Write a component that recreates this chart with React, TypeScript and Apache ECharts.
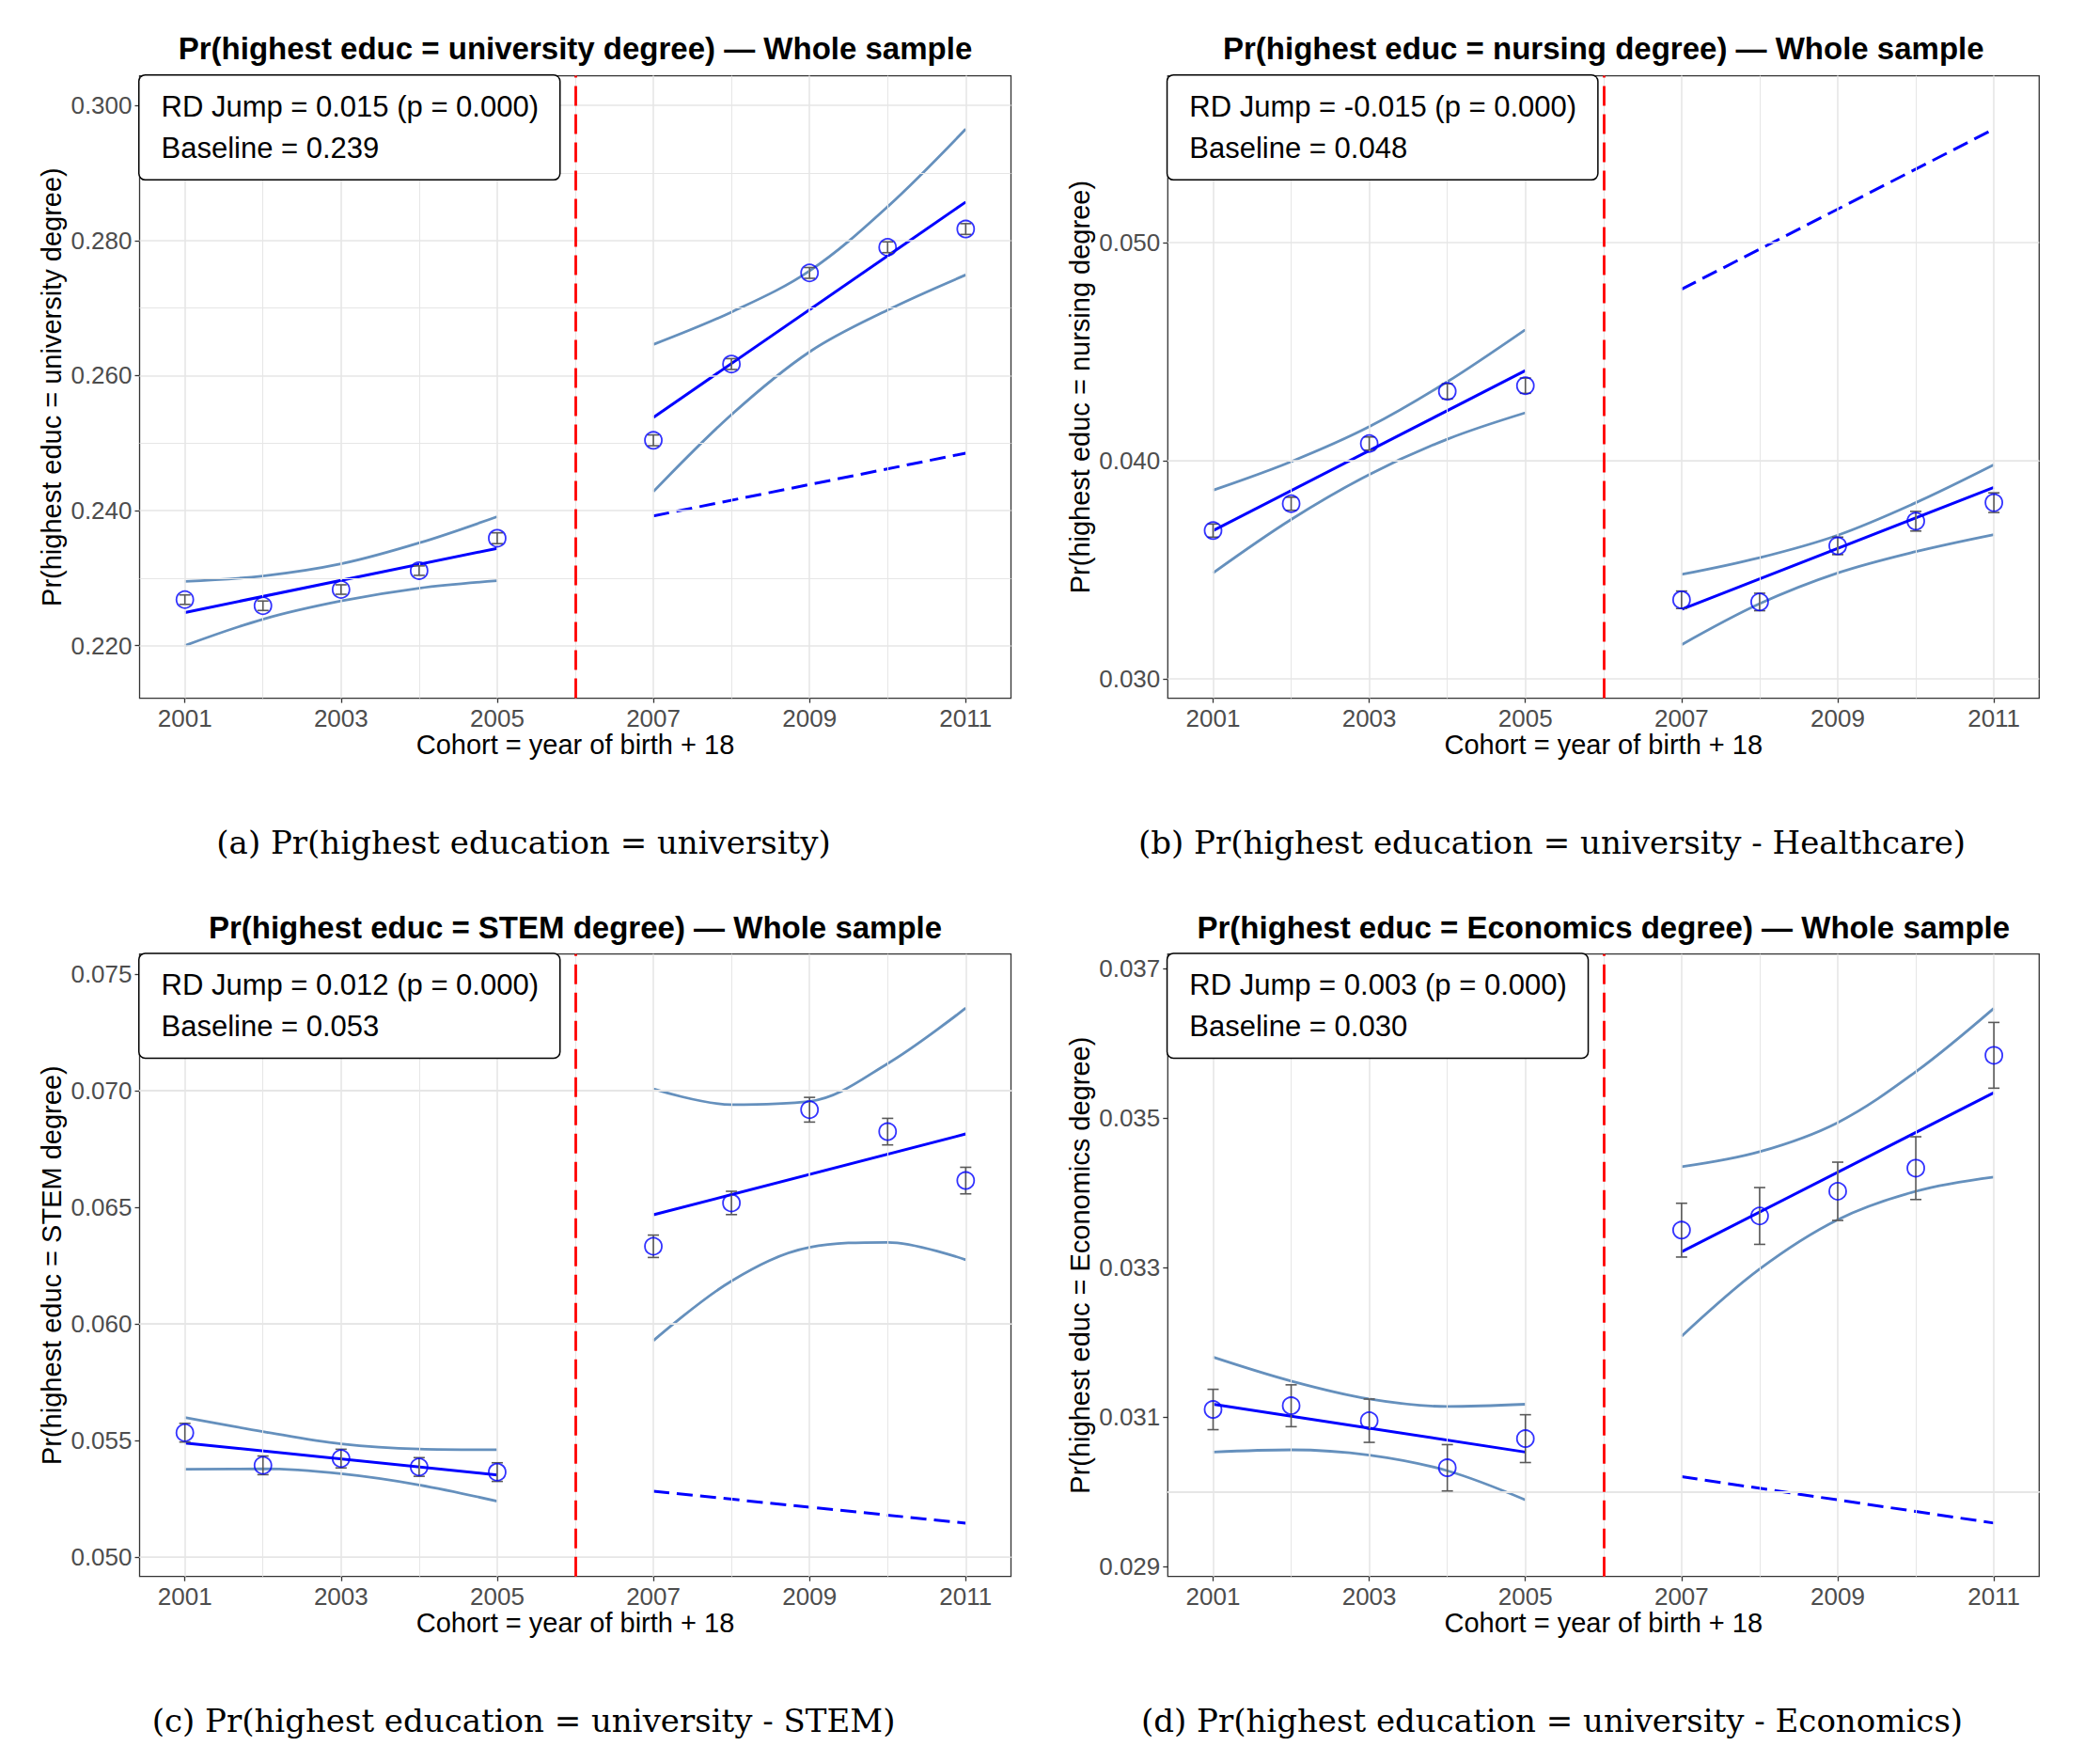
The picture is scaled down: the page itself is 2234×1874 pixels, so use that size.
import { useEffect, useRef } from 'react';
import * as echarts from 'echarts';

// cohorts on each side of the 2006 cut-off
const yearsLeft = [2001, 2002, 2003, 2004, 2005];
const yearsRight = [2007, 2008, 2009, 2010, 2011];
const cutoffYear = 2006;
const xMajorTicks = [2001, 2003, 2005, 2007, 2009, 2011];
const xMinorTicks = [2002, 2004, 2006, 2008, 2010];
const xRange = [2000.42, 2011.58];

// (a) university degree
const univPoints = [0.2268, 0.2259, 0.2283, 0.2311, 0.2359, 0.2504, 0.2617, 0.2752, 0.2790, 0.2817];
const univErr = [0.0007, 0.0007, 0.0007, 0.0007, 0.0008, 0.0008, 0.0008, 0.0008, 0.0008, 0.0008];
const univFitLeft = [0.2249, 0.2344];
const univFitRight = [0.2538, 0.2857];
const univUpperLeft = [0.2295, 0.2303, 0.2321, 0.2352, 0.2391];
const univLowerLeft = [0.2200, 0.2239, 0.2266, 0.2285, 0.2296];
const univUpperRight = [0.2646, 0.2694, 0.2755, 0.2850, 0.2965];
const univLowerRight = [0.2428, 0.2542, 0.2635, 0.2697, 0.2749];
const univCounterfactual = [0.2392, 0.2485];
const univYTicks = [0.22, 0.24, 0.26, 0.28, 0.30];
const univYMinor = [0.23, 0.25, 0.27, 0.29];
const univYRange = [0.2122, 0.3044];

// (b) nursing degree
const nursePoints = [0.0368, 0.03803, 0.04079, 0.04318, 0.04344, 0.03363, 0.03353, 0.0361, 0.03723, 0.03808];
const nurseErr = [0.0003, 0.0003, 0.0003, 0.00035, 0.00035, 0.0004, 0.0004, 0.0004, 0.00045, 0.00045];
const nurseFitLeft = [0.0368, 0.04413];
const nurseFitRight = [0.03319, 0.03878];
const nurseUpperLeft = [0.03865, 0.03996, 0.04156, 0.04362, 0.04601];
const nurseLowerLeft = [0.03486, 0.03731, 0.03937, 0.04099, 0.0422];
const nurseUpperRight = [0.03479, 0.03556, 0.03659, 0.03808, 0.03982];
const nurseLowerRight = [0.03157, 0.03345, 0.03486, 0.03584, 0.03662];
const nurseCounterfactual = [0.04786, 0.0552];
const nurseYTicks = [0.03, 0.04, 0.05];
const nurseYMinor = [0.035, 0.045, 0.055];
const nurseYRange = [0.02912, 0.05764];

// (c) STEM degree
const stemPoints = [0.05533, 0.05393, 0.05422, 0.05386, 0.05364, 0.06333, 0.06519, 0.06919, 0.06825, 0.06615];
const stemErr = [0.0004, 0.0004, 0.0004, 0.0004, 0.0004, 0.00048, 0.0005, 0.00053, 0.00057, 0.00057];
const stemFitLeft = [0.05489, 0.05352];
const stemFitRight = [0.06468, 0.06815];
const stemUpperLeft = [0.05598, 0.05538, 0.05485, 0.05463, 0.0546];
const stemLowerLeft = [0.05376, 0.05378, 0.05357, 0.05309, 0.05239];
const stemUpperRight = [0.07008, 0.06941, 0.06955, 0.07117, 0.07355];
const stemLowerRight = [0.05928, 0.06184, 0.06328, 0.0635, 0.06275];
const stemCounterfactual = [0.05282, 0.05145];
const stemYTicks = [0.05, 0.055, 0.06, 0.065, 0.07, 0.075];
const stemYMinor = [0.0525, 0.0575, 0.0625, 0.0675, 0.0725];
const stemYRange = [0.04916, 0.07587];

// (d) economics degree
const econPoints = [0.0311, 0.03115, 0.03095, 0.03032, 0.03071, 0.0335, 0.03369, 0.03402, 0.03433, 0.03584];
const econErr = [0.00027, 0.00028, 0.00029, 0.00031, 0.00032, 0.00036, 0.00038, 0.00039, 0.00042, 0.00044];
const econFitLeft = [0.03117, 0.03053];
const econFitRight = [0.03321, 0.03534];
const econUpperLeft = [0.0318, 0.03148, 0.03124, 0.03114, 0.03117];
const econLowerLeft = [0.03053, 0.03056, 0.03049, 0.03028, 0.02989];
const econUpperRight = [0.03435, 0.03455, 0.03494, 0.03562, 0.03647];
const econLowerRight = [0.03208, 0.03298, 0.03364, 0.03402, 0.03421];
const econCounterfactual = [0.0302, 0.02958];
const econYTicks = [0.029, 0.031, 0.033, 0.035, 0.037];
const econYMinor = [0.030, 0.032, 0.034, 0.036];
const econYRange = [0.028865, 0.037195];

const panelTitles = [
  'Pr(highest educ = university degree) — Whole sample',
  'Pr(highest educ = nursing degree) — Whole sample',
  'Pr(highest educ = STEM degree) — Whole sample',
  'Pr(highest educ = Economics degree) — Whole sample',
];
const yAxisTitles = [
  'Pr(highest educ = university degree)',
  'Pr(highest educ = nursing degree)',
  'Pr(highest educ = STEM degree)',
  'Pr(highest educ = Economics degree)',
];
const xAxisTitle = 'Cohort = year of birth + 18';
const notes = [
  'RD Jump = 0.015 (p = 0.000)\nBaseline = 0.239',
  'RD Jump = -0.015 (p = 0.000)\nBaseline = 0.048',
  'RD Jump = 0.012 (p = 0.000)\nBaseline = 0.053',
  'RD Jump = 0.003 (p = 0.000)\nBaseline = 0.030',
];
const captions = [
  '(a) Pr(highest education = university)',
  '(b) Pr(highest education = university - Healthcare)',
  '(c) Pr(highest education = university - STEM)',
  '(d) Pr(highest education = university - Economics)',
];

const panels = [
  { points: univPoints, err: univErr, fitL: univFitLeft, fitR: univFitRight, upL: univUpperLeft, loL: univLowerLeft, upR: univUpperRight, loR: univLowerRight, cf: univCounterfactual, yTicks: univYTicks, yMinor: univYMinor, yRange: univYRange },
  { points: nursePoints, err: nurseErr, fitL: nurseFitLeft, fitR: nurseFitRight, upL: nurseUpperLeft, loL: nurseLowerLeft, upR: nurseUpperRight, loR: nurseLowerRight, cf: nurseCounterfactual, yTicks: nurseYTicks, yMinor: nurseYMinor, yRange: nurseYRange },
  { points: stemPoints, err: stemErr, fitL: stemFitLeft, fitR: stemFitRight, upL: stemUpperLeft, loL: stemLowerLeft, upR: stemUpperRight, loR: stemLowerRight, cf: stemCounterfactual, yTicks: stemYTicks, yMinor: stemYMinor, yRange: stemYRange },
  { points: econPoints, err: econErr, fitL: econFitLeft, fitR: econFitRight, upL: econUpperLeft, loL: econLowerLeft, upR: econUpperRight, loR: econLowerRight, cf: econCounterfactual, yTicks: econYTicks, yMinor: econYMinor, yRange: econYRange },
];

const SANS = "'Liberation Sans', Arial, Helvetica, sans-serif";
const SERIF = "'DejaVu Serif', 'Liberation Serif', serif";
const PLOT_W = 927;
const PLOT_H = 662;
const lefts = [148.5, 1242.3, 148.5, 1242.3];
const tops = [80.6, 80.6, 1014.7, 1014.7];
const captionX = [557, 1651, 557, 1651];

const pairs = (xs: number[], ys: number[]) => xs.map((x, i) => [x, ys[i]]);
const ends = (xs: number[]) => [xs[0], xs[xs.length - 1]];
const allYears = [...yearsLeft, ...yearsRight];

function panelSeries(i: number) {
  const p = panels[i];
  const axes = { xAxisIndex: i, yAxisIndex: i };
  const grey = '#e6e6e6';
  const major = { color: grey, width: 1.6, type: 'solid' };
  const minor = { color: grey, width: 1, type: 'solid' };
  const gridLines = [
    ...xMajorTicks.map(v => ({ xAxis: v, lineStyle: major })),
    ...xMinorTicks.map(v => ({ xAxis: v, lineStyle: minor })),
    ...p.yTicks.map(v => ({ yAxis: v, lineStyle: major })),
    ...p.yMinor.map(v => ({ yAxis: v, lineStyle: minor })),
  ];
  const ci = (xs: number[], ys: number[]) => ({
    type: 'line', ...axes, z: 2, data: pairs(xs, ys), smooth: 0.35, symbol: 'none', silent: true,
    lineStyle: { color: '#6590bd', width: 2.8 },
  });
  const fit = (xs: number[], ys: number[], dashed: boolean) => ({
    type: 'line', ...axes, z: 3, data: pairs(xs, ys), symbol: 'none', silent: true,
    lineStyle: { color: '#0000ff', width: 3, type: dashed ? [17, 8] : 'solid' },
  });
  return [
    {
      type: 'line', ...axes, z: 1, data: [], silent: true,
      markLine: { silent: true, symbol: ['none', 'none'], label: { show: false }, data: gridLines },
    },
    ci(yearsLeft, p.upL),
    ci(yearsLeft, p.loL),
    ci(yearsRight, p.upR),
    ci(yearsRight, p.loR),
    fit(ends(yearsLeft), p.fitL, false),
    fit(ends(yearsRight), p.fitR, false),
    fit(ends(yearsRight), p.cf, true),
    {
      type: 'line', ...axes, z: 4, data: [], silent: true,
      markLine: {
        silent: true, symbol: ['none', 'none'], label: { show: false },
        data: [{ xAxis: cutoffYear }],
        lineStyle: { color: '#ff0000', width: 2.8, type: [21, 9] },
      },
    },
    {
      type: 'custom', ...axes, z: 5, silent: true,
      data: allYears.map((y, k) => [y, p.points[k], p.err[k]]),
      encode: { x: 0, y: 1 },
      renderItem: (_params: any, api: any) => {
        const x = api.value(0);
        const v = api.value(1);
        const e = api.value(2);
        const lo = api.coord([x, v - e]);
        const hi = api.coord([x, v + e]);
        const style = { stroke: '#595959', lineWidth: 1.6 };
        return {
          type: 'group',
          children: [
            { type: 'line', shape: { x1: lo[0], y1: lo[1], x2: hi[0], y2: hi[1] }, style },
            { type: 'line', shape: { x1: lo[0] - 6, y1: lo[1], x2: lo[0] + 6, y2: lo[1] }, style },
            { type: 'line', shape: { x1: hi[0] - 6, y1: hi[1], x2: hi[0] + 6, y2: hi[1] }, style },
          ],
        };
      },
    },
    {
      type: 'scatter', ...axes, z: 6, silent: true,
      data: pairs(allYears, p.points),
      symbol: 'circle', symbolSize: 18,
      itemStyle: { color: 'rgba(0,0,0,0)', borderColor: '#0000ff', borderWidth: 1.8 },
    },
  ];
}

function textEl(text: string, x: number, y: number, extra: any) {
  return {
    type: 'text', x, y, z: 100, silent: true,
    style: {
      text, fill: '#000', fontFamily: SANS, fontSize: 29,
      align: 'center', verticalAlign: 'middle', textAlign: 'center', textVerticalAlign: 'middle',
      ...extra,
    },
  };
}

export default function App() {
  const chartRef = useRef<HTMLDivElement>(null);

  useEffect(() => {
    if (!chartRef.current) return;
    document.body.style.margin = '0';

    const chart = echarts.init(chartRef.current, null, { renderer: 'svg' });

    const tickLabel = { fontSize: 26, color: '#4d4d4d', fontFamily: SANS, margin: 8 };
    const tickStyle = { show: true, length: 5, lineStyle: { color: '#333333', width: 1.3 } };

    const graphic: any[] = [];
    panels.forEach((_, i) => {
      const cx = lefts[i] + PLOT_W / 2;
      graphic.push(textEl(panelTitles[i], cx, tops[i] - 28.7, { fontSize: 33, fontWeight: 'bold' }));
      graphic.push(textEl(xAxisTitle, cx, tops[i] + PLOT_H + 49.4, {}));
      graphic.push({
        ...textEl(yAxisTitles[i], lefts[i] - 93.5, tops[i] + PLOT_H / 2, {}),
        rotation: Math.PI / 2,
      });
      graphic.push(textEl(captions[i], captionX[i], tops[i] + 815.4, { fontFamily: SERIF, fontSize: 34 }));
      graphic.push({
        type: 'text', x: lefts[i], y: tops[i], z: 100, silent: true,
        style: {
          text: notes[i], fill: '#000', fontFamily: SANS, fontSize: 31, lineHeight: 44,
          align: 'left', verticalAlign: 'top', textAlign: 'left', textVerticalAlign: 'top',
          padding: [11, 22, 11, 23], backgroundColor: '#ffffff',
          borderColor: '#000000', borderWidth: 1.5, borderRadius: 6,
        },
      });
    });

    const option = {
      animation: false,
      backgroundColor: '#ffffff',
      grid: panels.map((_, i) => ({
        left: lefts[i], top: tops[i], width: PLOT_W, height: PLOT_H,
        show: true, borderColor: '#333333', borderWidth: 1.3, backgroundColor: 'transparent',
      })),
      xAxis: panels.map((_, i) => ({
        type: 'value', gridIndex: i, min: xRange[0], max: xRange[1],
        axisLine: { show: false },
        axisTick: { ...tickStyle, customValues: xMajorTicks },
        axisLabel: { ...tickLabel, customValues: xMajorTicks, formatter: (v: number) => String(Math.round(v)) },
        splitLine: { show: false },
      })),
      yAxis: panels.map((p, i) => ({
        type: 'value', gridIndex: i, min: p.yRange[0], max: p.yRange[1],
        axisLine: { show: false },
        axisTick: { ...tickStyle, customValues: p.yTicks },
        axisLabel: { ...tickLabel, customValues: p.yTicks, formatter: (v: number) => v.toFixed(3) },
        splitLine: { show: false },
      })),
      series: panels.flatMap((_, i) => panelSeries(i)),
      graphic,
    };

    chart.setOption(option as any);

    return () => {
      chart.dispose();
    };
  }, []);

  return <div ref={chartRef} style={{ width: '2234px', height: '1874px' }} />;
}
